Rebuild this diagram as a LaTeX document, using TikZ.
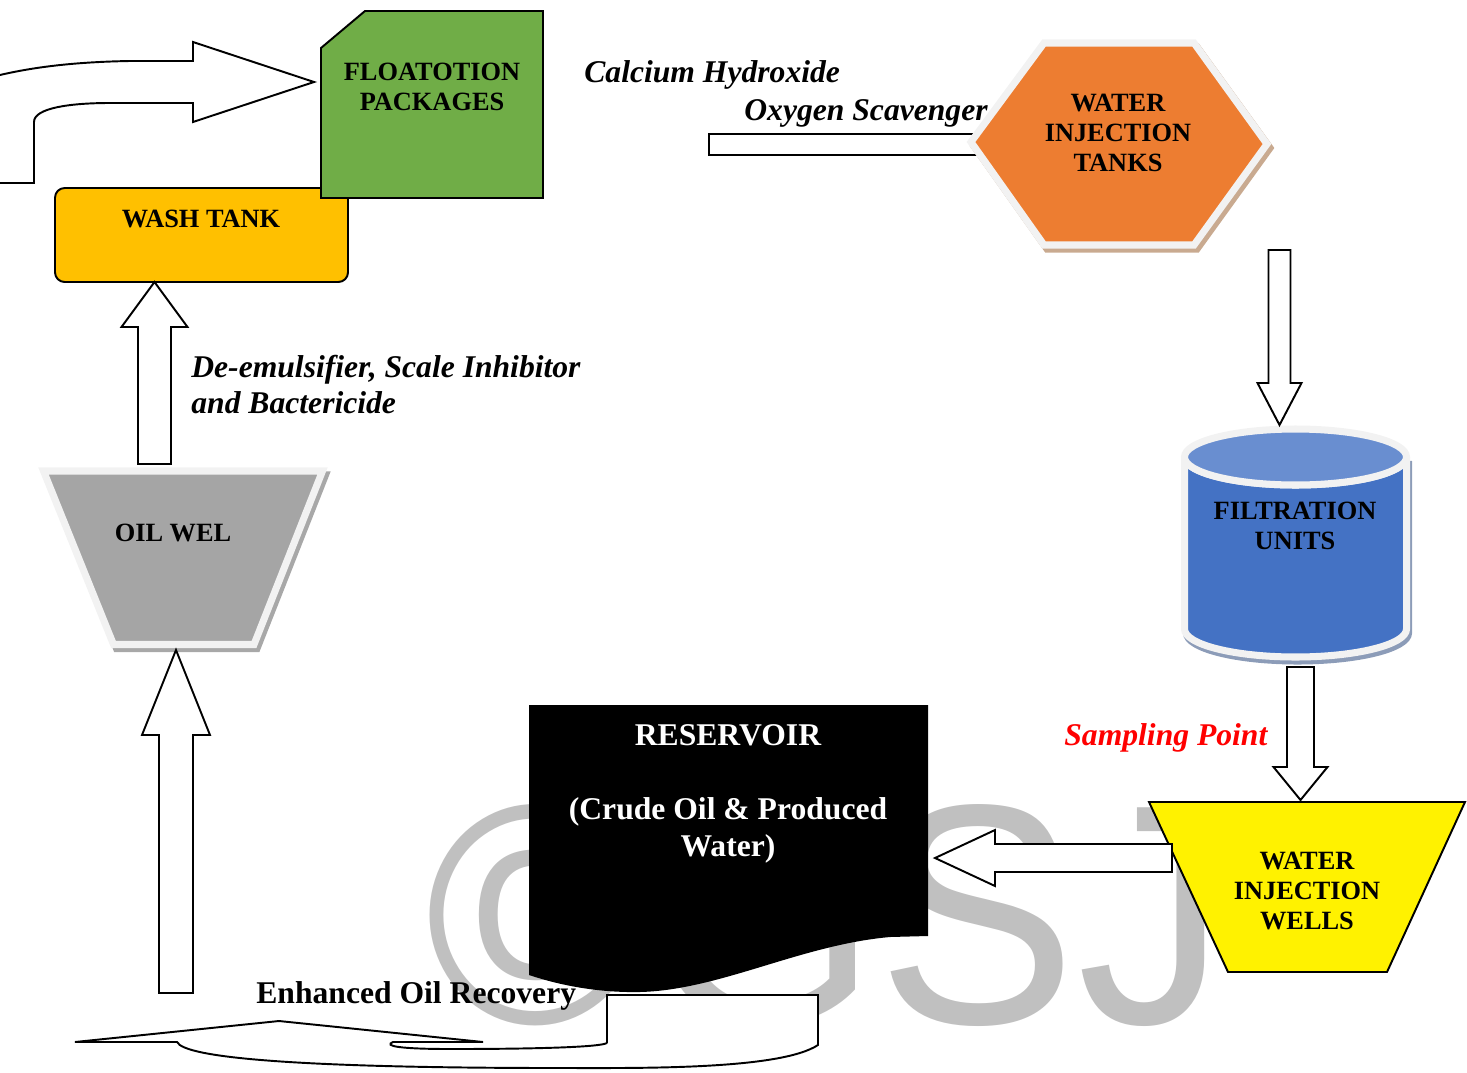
\documentclass[tikz,border=0pt]{standalone}
\usepackage{fontspec}
\setmainfont{Liberation Serif}
\newfontfamily\wmfont{Liberation Sans}
\usetikzlibrary{calc}

\definecolor{floatgreen}{HTML}{70AD47}
\definecolor{washamber}{HTML}{FFC000}
\definecolor{tankorange}{HTML}{ED7D31}
\definecolor{filterblue}{HTML}{4472C4}
\definecolor{filtertop}{HTML}{698ED0}
\definecolor{wellgray}{HTML}{A5A5A5}
\definecolor{rimwhite}{HTML}{F2F2F2}
\definecolor{tanshadow}{HTML}{C9AA90}
\definecolor{blueshadow}{HTML}{8C9CB8}
\definecolor{grayshadow}{HTML}{A8A8A8}
\definecolor{markgray}{HTML}{C0C0C0}

% block arrow: tail, tip, shaft half width, head half width, head length
\newcommand{\blockarrow}[5]{%
  \coordinate (ba-h) at ($(#2)!#5!(#1)$);
  \draw[flow] ($(#1)!#3!90:(#2)$) -- ($(ba-h)!#3!90:(#2)$) -- ($(ba-h)!#4!90:(#2)$) -- (#2)
    -- ($(ba-h)!#4!-90:(#2)$) -- ($(ba-h)!#3!-90:(#2)$) -- ($(#1)!#3!-90:(#2)$) -- cycle;
}

\begin{document}
\begin{tikzpicture}[
    x=0.02cm, y=-0.02cm,
    flow/.style={draw=black, fill=white, line width=1.1pt, line join=miter},
    outline/.style={draw=black, line width=1.1pt, line join=miter},
    rim/.style={draw=rimwhite, line width=4pt, line join=miter},
    unitlabel/.style={font=\fontsize{15}{17.3}\selectfont\bfseries, align=center, inner sep=0pt},
    chemlabel/.style={font=\fontsize{18}{20.5}\selectfont\bfseries\itshape, align=left, inner sep=0pt},
    mainlabel/.style={font=\fontsize{18}{21.2}\selectfont\bfseries, align=center, inner sep=0pt}
  ]
  \useasboundingbox (0,0) rectangle (1467,1072);

  % --- Watermark behind everything ---
  \node[font=\wmfont\fontsize{170}{170}\selectfont, text=markgray, anchor=base west, inner sep=0pt,
    yscale=1.05, transform shape] (mark) at (425,1023) {©GSJ};

  % --- Named ends of the flow arrows ---
  \coordinate (flot-in) at (314,82);
  \coordinate (wash-in) at (154.5,282);
  \coordinate (oil-out) at (154.5,464);
  \coordinate (oil-in) at (176,650);
  \coordinate (eor-up) at (176,993);
  \coordinate (scav) at (709,147);
  \coordinate (tanks-w) at (971,142);
  \coordinate (tanks-out) at (1279.5,250);
  \coordinate (filter-in) at (1279.5,425);
  \coordinate (filter-out) at (1300.5,667);
  \coordinate (inj-in) at (1300.5,800);
  \coordinate (inj-out) at (1172,858);
  \coordinate (res-in) at (935,858);

  % --- Curved arrow into the flotation packages ---
  \draw[flow] (0,183) -- (34,183) -- (34,122) .. controls (34,108) and (70,103) .. (110,103)
    -- (193,103) -- (193,122) -- (flot-in) -- (193,42) -- (193,61) -- (130,61)
    .. controls (70,62) and (30,68) .. (0,75);

  % --- Wash tank and flotation packages ---
  \draw[outline, fill=washamber, rounded corners=5.5pt] (55,188) rectangle (348,282);
  \draw[outline, fill=floatgreen] (321,48) -- (365,11) -- (543,11) -- (543,198) -- (321,198) -- cycle;

  % --- Dosing line and water injection tanks ---
  \draw[flow] ($(scav)+(0,-13)$) rectangle ($(tanks-w)+(30,13)$);
  \draw[fill=tanshadow, draw=tanshadow, line width=4pt, line join=miter, shift={(3,4)}]
    (971,142) -- (1044,43) -- (1194,43) -- (1267,144) -- (1194,245) -- (1044,245) -- cycle;
  \draw[rim, fill=tankorange]
    (971,142) -- (1044,43) -- (1194,43) -- (1267,144) -- (1194,245) -- (1044,245) -- cycle;

  % --- Filtration units (cylinder) ---
  \draw[fill=blueshadow, draw=blueshadow, line width=4pt, shift={(2,4)}]
    (1184.5,457) -- (1184.5,629) arc[start angle=180, end angle=0, x radius=111, y radius=28]
    -- (1406.5,457) arc[start angle=0, end angle=180, x radius=111, y radius=28] -- cycle;
  \draw[rim, fill=filterblue]
    (1184.5,457) -- (1184.5,629) arc[start angle=180, end angle=0, x radius=111, y radius=28]
    -- (1406.5,457) arc[start angle=0, end angle=180, x radius=111, y radius=28] -- cycle;
  \draw[rim, fill=filtertop] (1295.5,457) ellipse[x radius=111, y radius=28];

  \blockarrow{tanks-out}{filter-in}{0.22cm}{0.44cm}{0.84cm}

  % --- Water injection wells ---
  \draw[outline, fill=yellow] (1149,802) -- (1465,802) -- (1387,972) -- (1228,972) -- cycle;
  \blockarrow{filter-out}{inj-in}{0.27cm}{0.54cm}{0.66cm}
  \blockarrow{inj-out}{res-in}{0.28cm}{0.56cm}{1.2cm}

  % --- Reservoir ---
  \fill[black] (529,705) -- (928,705) -- (928,936) -- (890,937)
    .. controls (800,945) and (720,990) .. (640,992)
    .. controls (590,993) and (550,982) .. (529,975) -- cycle;

  % --- Enhanced oil recovery return arrow ---
  \draw[flow] (607,1043) -- (607,995) -- (818,995) -- (818,1045)
    .. controls (780,1070) and (640,1068) .. (560,1068)
    .. controls (300,1068) and (185,1058) .. (177,1042)
    -- (75,1042) -- (279,1021) -- (483,1042) -- (393,1042)
    .. controls (383,1046) and (400,1049) .. (450,1049)
    .. controls (540,1049) and (600,1047) .. (607,1043);

  % --- Oil well ---
  \draw[fill=grayshadow, draw=grayshadow, line width=4pt, line join=miter, shift={(3,4)}]
    (43.5,471) -- (322.5,471) -- (254,644.5) -- (113.5,644.5) -- cycle;
  \draw[rim, fill=wellgray] (43.5,471) -- (322.5,471) -- (254,644.5) -- (113.5,644.5) -- cycle;

  \blockarrow{oil-out}{wash-in}{0.33cm}{0.66cm}{0.9cm}
  \blockarrow{eor-up}{oil-in}{0.34cm}{0.68cm}{1.7cm}

  % --- Unit labels ---
  \node[unitlabel] (flot) at (432,87) {FLOATOTION\\PACKAGES};
  \node[unitlabel] (wash) at (201,219) {WASH TANK};
  \node[unitlabel] (tanks) at (1118,133) {WATER\\INJECTION\\TANKS};
  \node[unitlabel] (filter) at (1295,526) {FILTRATION\\UNITS};
  \node[unitlabel] (oilwel) at (173,533) {OIL WEL};
  \node[unitlabel] (injwell) at (1307,891) {WATER\\INJECTION\\WELLS};
  \node[mainlabel, text=white] (res) at (728,794) {RESERVOIR\\[21.2pt](Crude Oil \& Produced\\Water)};

  % --- Chemical and process notes ---
  \node[chemlabel, anchor=west] (calcium) at (584,75) {Calcium Hydroxide};
  \node[chemlabel, anchor=west] (scavenger) at (744,113) {Oxygen Scavenger};
  \node[chemlabel, anchor=north west] (demuls) at (191,355) {De-emulsifier, Scale Inhibitor\\and Bactericide};
  \node[chemlabel, text=red, anchor=west] (sampling) at (1064,738) {Sampling Point};
  \node[mainlabel, anchor=west] (eor) at (256,996) {Enhanced Oil Recovery};
\end{tikzpicture}
\end{document}
